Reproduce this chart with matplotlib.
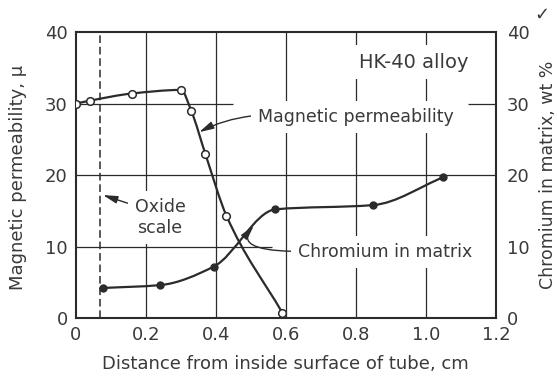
#!/usr/bin/env python3

import matplotlib
matplotlib.use('Agg')
import matplotlib.pyplot as plt
import numpy as np
from matplotlib.path import Path
from matplotlib.patches import PathPatch

# distance from inside surface (cm) / magnetic permeability (mu)
perm_x = [0.0, 0.04, 0.16, 0.30, 0.33, 0.37, 0.43, 0.59]
perm_y = [30.0, 30.4, 31.4, 31.9, 28.9, 22.9, 14.3, 0.7]

# distance (cm) / chromium in matrix (wt %)
cr_x = [0.078, 0.24, 0.394, 0.57, 0.85, 1.05]
cr_y = [4.2, 4.6, 7.2, 15.2, 15.8, 19.7]

oxide_edge = 0.07
x_ticks = [0, 0.2, 0.4, 0.6, 0.8, 1.0, 1.2]
x_labels = ['0', '0.2', '0.4', '0.6', '0.8', '1.0', '1.2']
y_ticks = [0, 10, 20, 30, 40]

ink = '#2b2b2b'
txt = '#3a3a3a'


def smooth_path(xs, ys):
    # monotone cubic (fritsch-carlson) through the points, drawn as bezier segments
    x = np.asarray(xs, float)
    y = np.asarray(ys, float)
    h = np.diff(x)
    d = np.diff(y) / h
    m = np.zeros_like(y)
    m[0], m[-1] = d[0], d[-1]
    for i in range(1, len(x) - 1):
        if d[i - 1] * d[i] > 0:
            w1 = 2 * h[i] + h[i - 1]
            w2 = h[i] + 2 * h[i - 1]
            m[i] = (w1 + w2) / (w1 / d[i - 1] + w2 / d[i])
    verts = [(x[0], y[0])]
    codes = [Path.MOVETO]
    for i in range(len(x) - 1):
        verts += [(x[i] + h[i] / 3, y[i] + m[i] * h[i] / 3),
                  (x[i + 1] - h[i] / 3, y[i + 1] - m[i + 1] * h[i] / 3),
                  (x[i + 1], y[i + 1])]
        codes += [Path.CURVE4] * 3
    return Path(verts, codes)


plt.rcParams['font.family'] = 'DejaVu Sans'
fig = plt.figure(figsize=(5.57, 3.78), dpi=100)
ax = fig.add_axes([0.1364, 0.1587, 0.754, 0.7566])
ax.set_xlim(0, 1.2)
ax.set_ylim(0, 40)

# grid
for gx in x_ticks[1:-1]:
    ax.axvline(gx, color=ink, lw=0.9, zorder=1)
ax.axvline(oxide_edge, color=ink, lw=1.1, ls=(0, (5, 2.5)), zorder=1)
ax.hlines(20, 0, 1.2, color=ink, lw=0.9, zorder=1)
ax.hlines(10, 0, 0.56, color=ink, lw=0.9, zorder=1)
ax.hlines(30, 0, 0.45, color=ink, lw=0.9, zorder=1)
ax.hlines(30, 1.12, 1.2, color=ink, lw=0.9, zorder=1)

# curves
ax.add_patch(PathPatch(smooth_path(perm_x, perm_y), fill=False, ec=ink, lw=1.6, zorder=3))
ax.add_patch(PathPatch(smooth_path(cr_x, cr_y), fill=False, ec=ink, lw=1.6, zorder=3))
ax.plot(perm_x, perm_y, 'o', ms=5.5, mfc='white', mec=ink, mew=1.1, zorder=4)
ax.plot(cr_x, cr_y, 'o', ms=5, mfc=ink, mec=ink, zorder=4)

box = dict(boxstyle='square,pad=0.4', fc='white', ec='none')
arrow = dict(arrowstyle='-|>,head_length=0.7,head_width=0.18', color=ink, lw=1.0,
             shrinkA=0, shrinkB=0)

ax.text(0.966, 35.8, 'HK-40 alloy', ha='center', va='center', fontsize=14,
        color=txt, bbox=box, zorder=2)
ax.annotate('Magnetic permeability', xy=(0.352, 26.0), xytext=(0.80, 28.1),
            ha='center', va='center', fontsize=12.5, color=txt, bbox=box, zorder=2,
            arrowprops=dict(arrow, connectionstyle='arc3,rad=0.1', relpos=(0, 0.6)))
ax.annotate('Oxide\nscale', xy=(0.077, 17.2), xytext=(0.24, 14.1),
            ha='center', va='center', fontsize=12.5, color=txt, bbox=box, zorder=2,
            linespacing=1.2,
            arrowprops=dict(arrow, connectionstyle='arc3,rad=0.0', relpos=(0.05, 0.78)))
ax.annotate('Chromium in matrix', xy=(0.508, 12.9), xytext=(0.883, 9.2),
            ha='center', va='center', fontsize=12.5, color=txt, bbox=box, zorder=2,
            arrowprops=dict(arrow, connectionstyle='angle3,angleA=0,angleB=50',
                            relpos=(0, 0.55)))

# axes and ticks
for s in ax.spines.values():
    s.set_linewidth(1.5)
    s.set_color(ink)
ax.set_xticks(x_ticks)
ax.set_xticklabels(x_labels)
ax.set_yticks(y_ticks)
ax.tick_params(length=0, labelsize=13, labelcolor=txt, pad=6)

ax2 = ax.twinx()
ax2.set_ylim(0, 40)
ax2.set_yticks(y_ticks)
ax2.set_yticks([10], minor=True)
ax2.tick_params(which='major', length=0, labelsize=13, labelcolor=txt, pad=8)
ax2.tick_params(which='minor', direction='in', length=6, width=1.0, color=ink)
for s in ax2.spines.values():
    s.set_visible(False)

ax.set_xlabel('Distance from inside surface of tube, cm', fontsize=13, color=txt)
ax.xaxis.set_label_coords(0.498, -0.128)
ax.set_ylabel('Magnetic permeability, μ', fontsize=13, color=txt)
ax.yaxis.set_label_coords(-0.117, 0.493)
ax2.set_ylabel('Chromium in matrix, wt %', fontsize=12.5, color=txt)
ax2.yaxis.set_label_coords(1.103, 0.5)

fig.text(0.972, 0.985, '✓', ha='center', va='top', fontsize=13, color=txt)

plt.savefig('out.png', dpi=100)
plt.close()
